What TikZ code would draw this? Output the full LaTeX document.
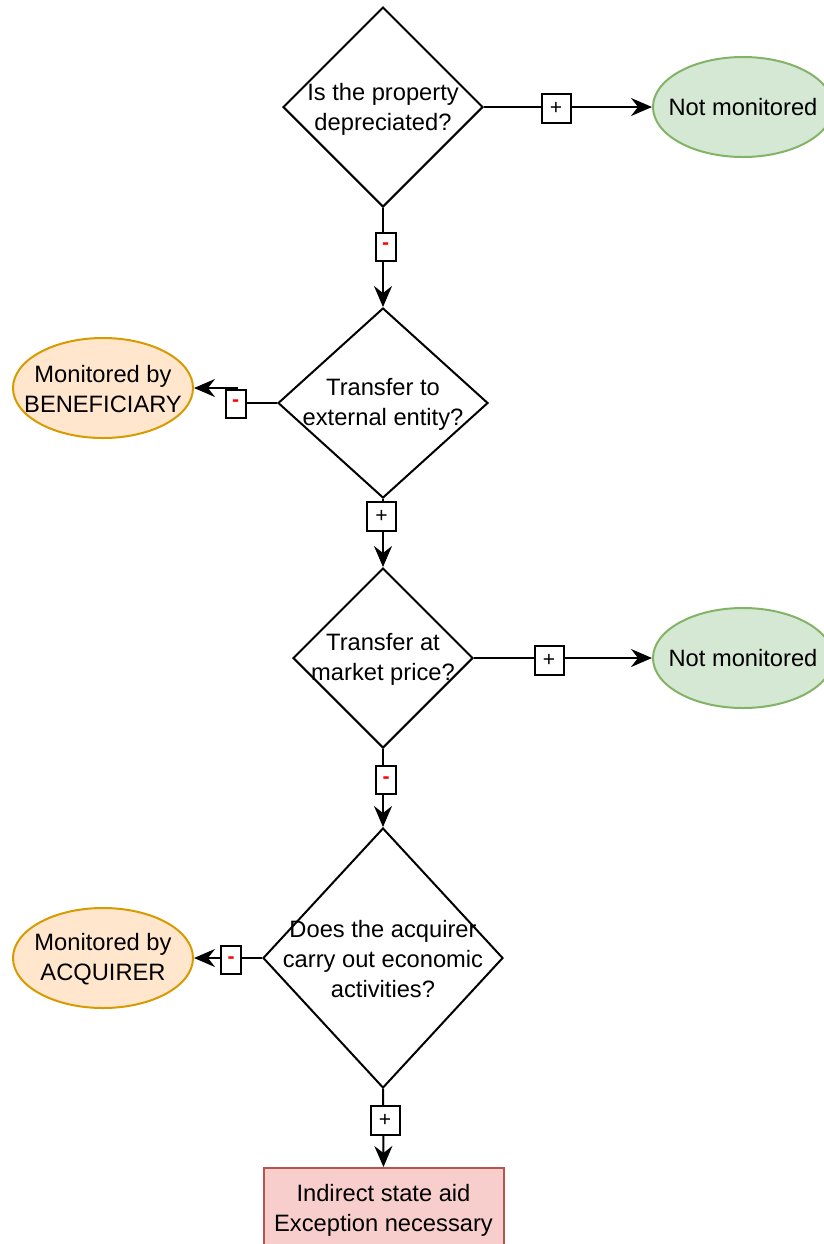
\documentclass[tikz,border=0pt]{standalone}
\usepackage{fontspec}
\setmainfont{Liberation Sans}
\usetikzlibrary{arrows.meta,positioning,shapes.geometric}
\definecolor{okfill}{HTML}{D5E8D4}
\definecolor{okline}{HTML}{82B366}
\definecolor{monfill}{HTML}{FFE6CC}
\definecolor{monline}{HTML}{D79B00}
\definecolor{aidfill}{HTML}{F8CECC}
\definecolor{aidline}{HTML}{B85450}
\definecolor{negred}{HTML}{FF0000}
\tikzset{
  question/.style={diamond, draw=black, fill=white, line width=1pt, inner sep=0pt},
  qtext/.style={font=\fontsize{11.85}{15}\selectfont, align=center, inner sep=0pt},
  % end states
  notmon/.style={ellipse, draw=okline, fill=okfill, line width=1pt,
    minimum width=90pt, minimum height=50pt, inner sep=0pt},
  mon/.style={ellipse, draw=monline, fill=monfill, line width=1pt,
    minimum width=90pt, minimum height=50pt, inner sep=0pt},
  aid/.style={rectangle, draw=aidline, fill=aidfill, line width=1pt,
    minimum width=120pt, minimum height=40pt, inner sep=0pt},
  flow/.style={-{Stealth[length=10.5pt,width=9pt,inset=3.5pt]}, line width=1pt},
  % answer tags on the connectors
  plusbox/.style={draw=black, fill=white, line width=1pt, minimum width=14.5pt,
    minimum height=14.5pt, inner sep=0pt, font=\fontsize{10.5}{11}\selectfont},
  minusbox/.style={plusbox, minimum width=10pt, minimum height=14pt, text=negred,
    font=\fontsize{10.5}{11}\selectfont\bfseries},
}
\begin{document}
\begin{tikzpicture}[x=0.5pt,y=-0.5pt]
  \useasboundingbox (0,0) rectangle (824,1244);
  % questions
  \node[question, minimum width=100pt, minimum height=100pt] (d1) at (383,107) {};
  \node[qtext] (d1t) at (383,109) {Is the property\\depreciated?};
  \node[question, minimum width=105pt, minimum height=95pt] (d2) at (383,403) {};
  \node[qtext] (d2t) at (383,404) {Transfer to\\external entity?};
  \node[question, minimum width=90pt, minimum height=90pt] (d3) at (383,658) {};
  \node[qtext] (d3t) at (383,659) {Transfer at\\market price?};
  \node[question, minimum width=120pt, minimum height=130pt] (d4) at (383,958) {};
  \node[qtext] (d4t) at (383,959) {Does the acquirer\\carry out economic\\activities?};
  % outcomes
  \node[notmon] (nm1) at (743,107) {};
  \node[qtext] (nm1t) at (743,107) {Not monitored};
  \node[notmon] (nm2) at (743,658) {};
  \node[qtext] (nm2t) at (743,658) {Not monitored};
  \node[mon] (mb1) at (103,388) {};
  \node[qtext] (mb1t) at (103,389) {Monitored by\\BENEFICIARY};
  \node[mon] (mb2) at (103,958) {};
  \node[qtext] (mb2t) at (103,959) {Monitored by\\ACQUIRER};
  \node[aid] (sa) at (383.5,1208) {};
  \node[qtext] (sat) at (383.5,1210) {Indirect state aid\\Exception necessary};
  % connectors
  \coordinate (k1) at (237,395);
  \draw[flow] (d1.east) -- (nm1.west);
  \draw[flow] (d1.south) -- (d2.north);
  \draw[flow] (d2.west) -| (k1) |- (mb1.east);
  \draw[flow] (d2.south) -- (d3.north);
  \draw[flow] (d3.east) -- (nm2.west);
  \draw[flow] (d3.south) -- (d4.north);
  \draw[flow] (d4.west) -- (mb2.east);
  \draw[flow] (d4.south) -- (sa.north);
  % answers
  \node[plusbox] (a1) at (556,108) {+};
  \node[minusbox] (a2) at (385.5,246.5) {-};
  \node[minusbox] (a3) at (235.5,403.5) {-};
  \node[plusbox] (a4) at (381.5,516.5) {+};
  \node[plusbox] (a5) at (549,660) {+};
  \node[minusbox] (a6) at (386,780) {-};
  \node[minusbox] (a7) at (231,960) {-};
  \node[plusbox] (a8) at (385,1120) {+};
\end{tikzpicture}
\end{document}
